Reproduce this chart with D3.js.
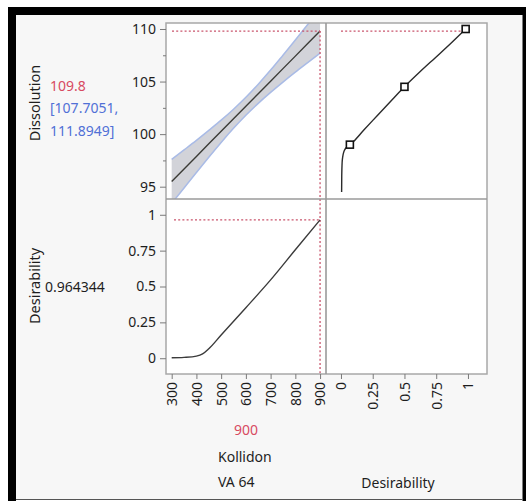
<!DOCTYPE html>
<html>
<head>
<meta charset="utf-8">
<script src="https://cdn.jsdelivr.net/npm/d3@7/dist/d3.min.js"></script>
<style>
  html, body { margin: 0; padding: 0; background: #ffffff; }
  svg { display: block; }
  text { font-family: "Noto Sans", "Open Sans", sans-serif; }
</style>
</head>
<body>
<svg id="chart" width="526" height="501"></svg>
<script>
// Prediction profiler: Dissolution and Desirability against Kollidon VA 64

// Factor grid (Kollidon VA 64)
const kollidonGrid = [300, 350, 400, 450, 500, 550, 600, 650, 700, 750, 800, 850, 900];
// Predicted dissolution with its confidence limits
const dissolutionPred  = [95.50, 96.69, 97.88, 99.08, 100.27, 101.46, 102.65, 103.84, 105.03, 106.23, 107.42, 108.61, 109.80];
const dissolutionLower = [93.41, 94.88, 96.35, 97.80, 99.21, 100.55, 101.80, 102.93, 103.97, 104.95, 105.89, 106.80, 107.7051];
const dissolutionUpper = [97.60, 98.50, 99.41, 100.36, 101.33, 102.37, 103.50, 104.75, 106.09, 107.51, 108.95, 110.42, 111.8949];

// Overall desirability along the factor
const desirabilityGrid  = [300, 350, 400, 425, 450, 500, 600, 700, 800, 900];
const desirabilityValue = [0.003, 0.006, 0.015, 0.03, 0.066, 0.162, 0.352, 0.546, 0.756, 0.964344];

// Desirability function of Dissolution (curve and its control points)
const desFnDissolution   = [94.5, 96, 97, 97.6, 98.0, 98.3, 98.5, 98.7, 98.85, 99, 100.4, 101.75, 103.1, 104.5, 105.9, 107.25, 108.6, 110];
const desFnDesirability  = [0.005, 0.006, 0.008, 0.011, 0.016, 0.022, 0.029, 0.04, 0.052, 0.07, 0.18, 0.285, 0.39, 0.5, 0.62, 0.741, 0.862, 0.9819];
const controlDissolution = [99, 104.5, 110];
const controlDesirability = [0.07, 0.5, 0.9819];

// Current settings
const currentKollidon = 900;
const currentDissolution = 109.8;
const currentInterval = [107.7051, 111.8949];
const currentDesirability = 0.964344;

// Axis ticks
const kollidonTicks = [300, 400, 500, 600, 700, 800, 900];
const dissolutionTicks = [95, 100, 105, 110];
const dissolutionMinorTicks = [97.5, 102.5, 107.5];
const desirabilityTicks = [0, 0.25, 0.5, 0.75, 1];

const svg = d3.select("#chart");
const W = 526, H = 501;

// Panel grid edges
const colX = [166, 326, 487];
const rowY = [23, 199, 374];

const textColor = "#1e1e1e";
const red = "#d84a62";
const blue = "#5070d6";
const refColor = "#c9546c";
const gridColor = "#a8a8a8";

// Window frame
svg.append("rect").attr("x", 0).attr("y", 0).attr("width", W).attr("height", H).attr("fill", "#ffffff");
svg.append("rect").attr("x", 8).attr("y", 7).attr("width", W - 8).attr("height", H - 7).attr("fill", "#000000");
svg.append("rect").attr("x", 16).attr("y", 15).attr("width", 506.5).attr("height", 484).attr("fill", "#f7f7f7");
svg.append("rect").attr("x", 16).attr("y", 499).attr("width", 506.5).attr("height", 2).attr("fill", "#ffffff");
svg.append("line").attr("x1", 16).attr("x2", 522.5).attr("y1", 499.5).attr("y2", 499.5)
  .attr("stroke", "#555").attr("stroke-width", 1.2);

// Scales
const xK = d3.scaleLinear().domain([277, 924]).range([colX[0], colX[1]]);
const yDiss = d3.scaleLinear().domain([93.83, 110.57]).range([rowY[1], rowY[0]]);
const yDes = d3.scaleLinear().domain([-0.11, 1.11]).range([rowY[2], rowY[1]]);
const xDes = d3.scaleLinear().domain([-0.118, 1.15]).range([colX[1], colX[2]]);

// Panel backgrounds
[[0, 0], [1, 0], [0, 1], [1, 1]].forEach(([c, r]) => {
  svg.append("rect")
    .attr("x", colX[c]).attr("y", rowY[r])
    .attr("width", colX[c + 1] - colX[c]).attr("height", rowY[r + 1] - rowY[r])
    .attr("fill", "#ffffff");
});

const defs = svg.append("defs");
defs.append("clipPath").attr("id", "clipTL").append("rect")
  .attr("x", colX[0]).attr("y", rowY[0]).attr("width", colX[1] - colX[0]).attr("height", rowY[1] - rowY[0]);

// ---- Top-left: Dissolution vs Kollidon ----
const bandData = kollidonGrid.map((k, i) => ({ k, lo: dissolutionLower[i], hi: dissolutionUpper[i], p: dissolutionPred[i] }));
const tl = svg.append("g").attr("clip-path", "url(#clipTL)");
tl.append("path").datum(bandData)
  .attr("d", d3.area().x(d => xK(d.k)).y0(d => yDiss(d.lo)).y1(d => yDiss(d.hi)).curve(d3.curveMonotoneX))
  .attr("fill", "#d2d3d9");
tl.append("path").datum(bandData)
  .attr("d", d3.line().x(d => xK(d.k)).y(d => yDiss(d.hi)).curve(d3.curveMonotoneX))
  .attr("fill", "none").attr("stroke", "#a9bbe6").attr("stroke-width", 1.5);
tl.append("path").datum(bandData)
  .attr("d", d3.line().x(d => xK(d.k)).y(d => yDiss(d.lo)).curve(d3.curveMonotoneX))
  .attr("fill", "none").attr("stroke", "#a9bbe6").attr("stroke-width", 1.5);
tl.append("path").datum(bandData)
  .attr("d", d3.line().x(d => xK(d.k)).y(d => yDiss(d.p)))
  .attr("fill", "none").attr("stroke", "#3b3b36").attr("stroke-width", 1.4);

// Reference lines at the current setting
const dash = "2,2.2";
svg.append("line")
  .attr("x1", colX[0] + 6).attr("x2", xK(currentKollidon))
  .attr("y1", yDiss(currentDissolution)).attr("y2", yDiss(currentDissolution))
  .attr("stroke", refColor).attr("stroke-width", 1.3).attr("stroke-dasharray", dash);
svg.append("line")
  .attr("x1", xK(currentKollidon)).attr("x2", xK(currentKollidon))
  .attr("y1", yDiss(currentDissolution)).attr("y2", rowY[2])
  .attr("stroke", refColor).attr("stroke-width", 1.3).attr("stroke-dasharray", dash);

// ---- Bottom-left: Desirability vs Kollidon ----
svg.append("path")
  .datum(desirabilityGrid.map((k, i) => ({ k, d: desirabilityValue[i] })))
  .attr("d", d3.line().x(d => xK(d.k)).y(d => yDes(d.d)).curve(d3.curveMonotoneX))
  .attr("fill", "none").attr("stroke", "#3b3b3b").attr("stroke-width", 1.4);
svg.append("line")
  .attr("x1", colX[0] + 8).attr("x2", xK(currentKollidon))
  .attr("y1", yDes(currentDesirability)).attr("y2", yDes(currentDesirability))
  .attr("stroke", refColor).attr("stroke-width", 1.3).attr("stroke-dasharray", dash);

// ---- Top-right: desirability function of Dissolution ----
svg.append("line")
  .attr("x1", xDes(0)).attr("x2", xDes(currentDesirability))
  .attr("y1", yDiss(currentDissolution)).attr("y2", yDiss(currentDissolution))
  .attr("stroke", refColor).attr("stroke-width", 1.3).attr("stroke-dasharray", dash);
svg.append("path")
  .datum(desFnDissolution.map((v, i) => ({ v, d: desFnDesirability[i] })))
  .attr("d", d3.line().x(d => xDes(d.d)).y(d => yDiss(d.v)).curve(d3.curveMonotoneY))
  .attr("fill", "none").attr("stroke", "#2b2b2b").attr("stroke-width", 1.4);
svg.append("g").selectAll("rect")
  .data(controlDissolution.map((v, i) => ({ v, d: controlDesirability[i] })))
  .join("rect")
  .attr("x", d => xDes(d.d) - 3.5).attr("y", d => yDiss(d.v) - 3.5)
  .attr("width", 7).attr("height", 7)
  .attr("fill", "#ffffff").attr("stroke", "#111").attr("stroke-width", 1.6);

// Panel borders and dividers
svg.append("rect")
  .attr("x", colX[0]).attr("y", rowY[0])
  .attr("width", colX[2] - colX[0]).attr("height", rowY[2] - rowY[0])
  .attr("fill", "none").attr("stroke", gridColor).attr("stroke-width", 1.5);
svg.append("line").attr("x1", colX[1]).attr("x2", colX[1]).attr("y1", rowY[0]).attr("y2", rowY[2])
  .attr("stroke", "#9a9a9a").attr("stroke-width", 1.6);
svg.append("line").attr("x1", colX[0]).attr("x2", colX[2]).attr("y1", rowY[1]).attr("y2", rowY[1])
  .attr("stroke", "#9a9a9a").attr("stroke-width", 1.6);

// ---- Axes ----
function styleAxis(g) {
  g.select(".domain").remove();
  g.selectAll(".tick line").attr("stroke", "#7a7a7a").attr("stroke-width", 1);
  g.selectAll(".tick text").attr("fill", textColor).style("font-size", "14px")
    .style("font-family", '"Noto Sans", "Open Sans", sans-serif');
}

svg.append("g").attr("transform", `translate(${colX[0]},0)`)
  .call(d3.axisLeft(yDiss).tickValues(dissolutionTicks).tickSize(6).tickPadding(4).tickFormat(d3.format("d")))
  .call(styleAxis);
svg.append("g").attr("transform", `translate(${colX[0]},0)`)
  .call(d3.axisLeft(yDiss).tickValues(dissolutionMinorTicks).tickSize(3).tickFormat(""))
  .call(styleAxis);
svg.append("g").attr("transform", `translate(${colX[0]},0)`)
  .call(d3.axisLeft(yDes).tickValues(desirabilityTicks).tickSize(6).tickPadding(4).tickFormat(d => String(d)))
  .call(styleAxis);

function rotateLabels(g) {
  g.selectAll(".tick text")
    .attr("transform", "rotate(-90)")
    .attr("x", -8).attr("y", 0).attr("dy", "0.35em")
    .style("text-anchor", "end");
}
svg.append("g").attr("transform", `translate(0,${rowY[2]})`)
  .call(d3.axisBottom(xK).tickValues(kollidonTicks).tickSize(5).tickFormat(d3.format("d")))
  .call(styleAxis).call(rotateLabels);
svg.append("g").attr("transform", `translate(0,${rowY[2]})`)
  .call(d3.axisBottom(xDes).tickValues(desirabilityTicks).tickSize(5).tickFormat(d => String(d)))
  .call(styleAxis).call(rotateLabels);

// ---- Row labels and current values ----
svg.append("text").attr("transform", `translate(40,103) rotate(-90)`)
  .attr("text-anchor", "middle").attr("fill", textColor).style("font-size", "14.5px").text("Dissolution");
svg.append("text").attr("transform", `translate(40,286) rotate(-90)`)
  .attr("text-anchor", "middle").attr("fill", textColor).style("font-size", "14.5px").text("Desirability");

svg.append("text").attr("x", 50).attr("y", 91).attr("fill", red).style("font-size", "14px")
  .text(String(currentDissolution));
svg.append("text").attr("x", 50).attr("y", 113).attr("fill", blue).style("font-size", "14px")
  .text("[" + currentInterval[0] + ",");
svg.append("text").attr("x", 50).attr("y", 136).attr("fill", blue).style("font-size", "14px")
  .text(currentInterval[1] + "]");
svg.append("text").attr("x", 45).attr("y", 292).attr("fill", textColor).style("font-size", "14px")
  .text(String(currentDesirability));

// ---- Column labels ----
svg.append("text").attr("x", 246).attr("y", 435).attr("text-anchor", "middle").attr("fill", red)
  .style("font-size", "14px").text(String(currentKollidon));
svg.append("text").attr("x", 218).attr("y", 462).attr("fill", textColor).style("font-size", "14px").text("Kollidon");
svg.append("text").attr("x", 218).attr("y", 487).attr("fill", textColor).style("font-size", "14px").text("VA 64");
svg.append("text").attr("x", 398).attr("y", 488).attr("text-anchor", "middle").attr("fill", textColor)
  .style("font-size", "14px").text("Desirability");
</script>
</body>
</html>
